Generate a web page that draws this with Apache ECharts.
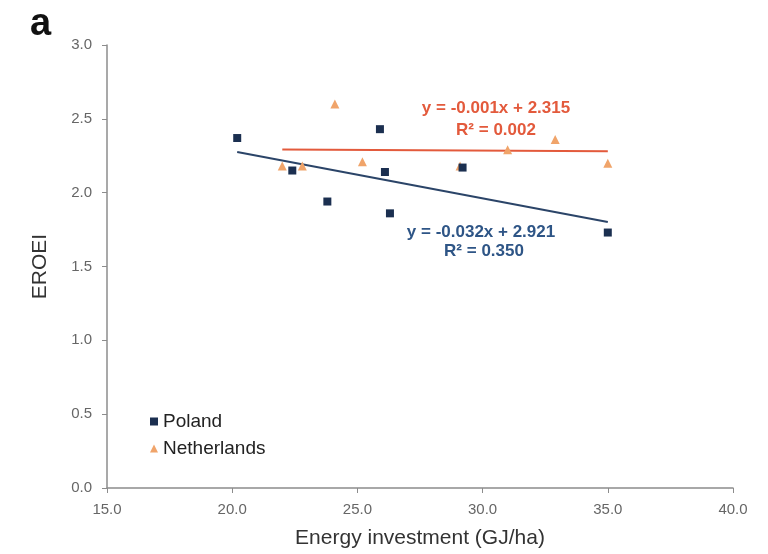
<!DOCTYPE html>
<html><head><meta charset="utf-8">
<script src="https://cdn.jsdelivr.net/npm/echarts@6/dist/echarts.min.js"></script>
<style>html,body{margin:0;padding:0;background:#fff}#c{width:768px;height:554px}</style>
</head><body><div id="c"></div>
<script>
const polandX = [20.2, 22.4, 23.8, 25.9, 26.1, 26.3, 29.2, 35.0];
const polandY = [2.37, 2.15, 1.94, 2.43, 2.14, 1.86, 2.17, 1.73];
const nethX = [22.0, 22.8, 24.1, 25.2, 29.1, 31.0, 32.9, 35.0];
const nethY = [2.18, 2.18, 2.60, 2.21, 2.18, 2.29, 2.36, 2.20];
const polandTrend = [[20.2, 2.275], [35.0, 1.801]];
const nethTrend = [[22.0, 2.293], [35.0, 2.280]];
const xTicks = [15, 20, 25, 30, 35, 40];
const yTicks = [0, 0.5, 1, 1.5, 2, 2.5, 3];

const navy = '#1b2f50', orange = '#f0a46a', red = '#e35a3c', blueText = '#2e5586';
const chart = echarts.init(document.getElementById('c'));
chart.setOption({
  animation: false,
  grid: {left: 107, right: 35, top: 45, bottom: 65},
  xAxis: {
    type: 'value', min: xTicks[0], max: xTicks[xTicks.length-1], interval: 5,
    axisLine: {lineStyle: {color: '#8c8c8c', width: 1.5}},
    axisTick: {show: true, length: 5, lineStyle: {color: '#8c8c8c'}},
    splitLine: {show: false},
    axisLabel: {color: '#666', fontSize: 15, fontFamily: 'Liberation Sans', formatter: v => v.toFixed(1), margin: 14},
    name: 'Energy investment (GJ/ha)', nameLocation: 'middle', nameGap: 40,
    nameTextStyle: {fontSize: 21, color: '#333', fontFamily: 'Liberation Sans'}
  },
  yAxis: {
    type: 'value', min: yTicks[0], max: yTicks[yTicks.length-1], interval: 0.5,
    axisLine: {show: true, lineStyle: {color: '#8c8c8c', width: 1.5}},
    axisTick: {show: true, length: 5, lineStyle: {color: '#8c8c8c'}},
    splitLine: {show: false},
    axisLabel: {color: '#666', fontSize: 15, fontFamily: 'Liberation Sans', formatter: v => v.toFixed(1), margin: 15},
    name: 'EROEI', nameLocation: 'middle', nameGap: 56, nameRotate: 90,
    nameTextStyle: {fontSize: 21, color: '#333', fontFamily: 'Liberation Sans'}
  },
  legend: {
    orient: 'vertical', left: 145, top: 407, itemWidth: 8, itemHeight: 8, itemGap: 8,
    textStyle: {fontSize: 19, color: '#222', fontFamily: 'Liberation Sans'},
    data: [{name: 'Poland', icon: 'rect'}, {name: 'Netherlands', icon: 'triangle'}]
  },
  series: [
    {name: 'Poland', type: 'scatter', symbol: 'rect', symbolSize: 8,
     itemStyle: {color: navy, opacity: 1}, data: polandX.map((x, i) => [x, polandY[i]]), z: 5},
    {name: 'Netherlands', type: 'scatter', symbol: 'triangle', symbolSize: 9,
     itemStyle: {color: orange, opacity: 1}, data: nethX.map((x, i) => [x, nethY[i]]), z: 4},
    {name: 'PolandTrend', type: 'line', data: polandTrend, symbol: 'none',
     lineStyle: {color: '#2b4468', width: 2}, z: 3},
    {name: 'NethTrend', type: 'line', data: nethTrend, symbol: 'none',
     lineStyle: {color: red, width: 2}, z: 3}
  ],
  graphic: [
    {type: 'text', x: 30, y: 25, style: {text: 'a', font: 'bold 38px Liberation Sans', fill: '#111', verticalAlign: 'middle'}},
    {type: 'text', x: 496, y: 108, style: {text: 'y = -0.001x + 2.315', font: 'bold 17px Liberation Sans', fill: red, align: 'center', verticalAlign: 'middle'}},
    {type: 'text', x: 496, y: 130, style: {text: 'R² = 0.002', font: 'bold 17px Liberation Sans', fill: red, align: 'center', verticalAlign: 'middle'}},
    {type: 'text', x: 481, y: 232, style: {text: 'y = -0.032x + 2.921', font: 'bold 17px Liberation Sans', fill: blueText, align: 'center', verticalAlign: 'middle'}},
    {type: 'text', x: 484, y: 251, style: {text: 'R² = 0.350', font: 'bold 17px Liberation Sans', fill: blueText, align: 'center', verticalAlign: 'middle'}}
  ]
});
</script></body></html>
